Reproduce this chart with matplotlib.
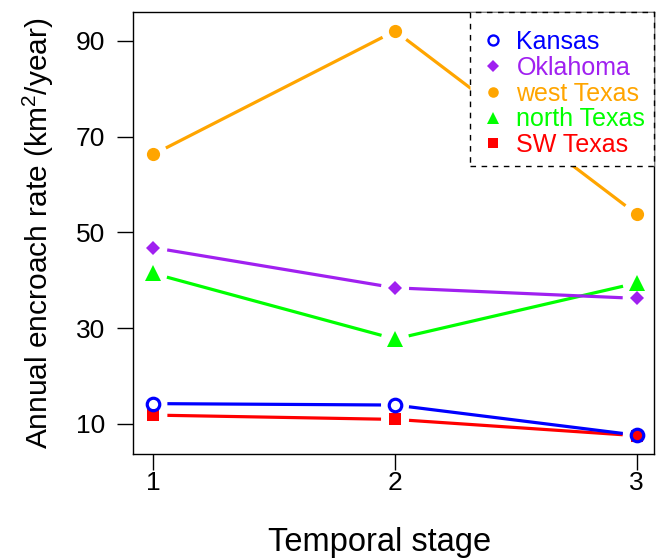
import matplotlib.pyplot as plt
from matplotlib.lines import Line2D

plt.rcParams['font.family'] = ['Liberation Sans', 'DejaVu Sans']
plt.rcParams['mathtext.fontset'] = 'custom'
plt.rcParams['mathtext.rm'] = 'Liberation Sans'

# Temporal stages and encroachment rates (km2/year)
stages = [1, 2, 3]
kansas = [14.2, 13.9, 7.6]
oklahoma = [46.8, 38.4, 36.2]
west_texas = [66.3, 92.1, 53.8]
north_texas = [41.4, 27.7, 39.4]
sw_texas = [11.8, 10.9, 7.5]

series = [
    # name, values, colour, marker, size, filled
    ('Kansas', kansas, '#0000FF', 'o', 9, False),
    ('Oklahoma', oklahoma, '#A020F0', 'D', 7.5, True),
    ('west Texas', west_texas, '#FFA500', 'o', 9.5, True),
    ('north Texas', north_texas, '#00FF00', '^', 11, True),
    ('SW Texas', sw_texas, '#FF0000', 's', 9, True),
]

fig = plt.figure(figsize=(6.61, 5.58), dpi=100)
ax = fig.add_axes([0.2017, 0.1864, 0.7882, 0.7916])
ax.set_xlim(0.917, 3.073)
ax.set_ylim(3.67, 96.0)


def gapped_line(ax, x, y, color, gap=14):
    # R type="b": segments stop short of the points
    pts = ax.transData.transform(list(zip(x, y)))
    inv = ax.transData.inverted()
    for p0, p1 in zip(pts[:-1], pts[1:]):
        d = p1 - p0
        length = (d[0] ** 2 + d[1] ** 2) ** 0.5
        if length <= 2 * gap:
            continue
        u = d / length
        a = inv.transform(p0 + u * gap)
        b = inv.transform(p1 - u * gap)
        ax.plot([a[0], b[0]], [a[1], b[1]], color=color, lw=2.3,
                solid_capstyle='butt', zorder=2)


handles = []
for name, vals, col, mk, ms, filled in reversed(series):
    gapped_line(ax, stages, vals, col)
    ax.plot(stages, vals, linestyle='none', marker=mk, markersize=ms,
            markerfacecolor=col if filled else 'none', markeredgecolor=col,
            markeredgewidth=2.3 if not filled else 0, zorder=3)

for name, vals, col, mk, ms, filled in series:
    handles.append(Line2D([], [], linestyle='none', marker=mk,
                          markersize=ms * 0.8,
                          markerfacecolor=col if filled else 'none',
                          markeredgecolor=col,
                          markeredgewidth=1.7 if not filled else 0))

leg = ax.legend(handles, [s[0] for s in series], loc='upper right',
                borderaxespad=0, fontsize=18, frameon=True, fancybox=False,
                handlelength=1.12, handletextpad=0.36, labelspacing=0.07,
                borderpad=0.36, title=' ', title_fontsize=6)
frame = leg.get_frame()
frame.set_edgecolor('black')
frame.set_linestyle((0, (4, 4)))
frame.set_linewidth(1.0)
frame.set_facecolor('white')
frame.set_alpha(1)
for txt, s in zip(leg.get_texts(), series):
    txt.set_color(s[2])
leg.set_zorder(5)

ax.set_xticks(stages)
ax.set_yticks([10, 30, 50, 70, 90])
ax.tick_params(axis='both', direction='out', length=11.5, width=1,
               labelsize=19, color='black')
ax.tick_params(axis='x', pad=0.5)
ax.tick_params(axis='y', pad=9)
for sp in ax.spines.values():
    sp.set_linewidth(1.0)

ax.set_xlabel('Temporal stage', fontsize=23.5)
ax.xaxis.set_label_coords(0.473, -0.165)
ax.set_ylabel('Annual encroach rate (km$^2$/year)', fontsize=21.5, labelpad=14)

fig.savefig('out.png', dpi=100)
